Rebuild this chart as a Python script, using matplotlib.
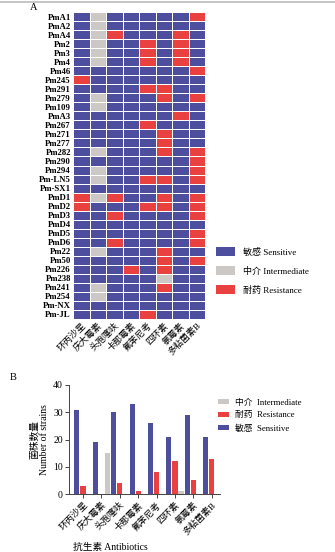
import matplotlib
matplotlib.use("Agg")
import matplotlib.pyplot as plt
import numpy as np
from matplotlib.colors import ListedColormap
from matplotlib.patches import Patch
from matplotlib.lines import Line2D

FONT = ['Liberation Serif', 'Noto Sans CJK SC', 'DejaVu Sans']
plt.rcParams['font.family'] = FONT

antibiotics = ['环丙沙星', '庆大霉素', '头孢噻呋', '卡那霉素',
               '氟苯尼考', '四环素', '氯霉素', '多粘菌素B']

strains = ['PmA1', 'PmA2', 'PmA4', 'Pm2', 'Pm3', 'Pm4', 'Pm46', 'Pm245',
           'Pm291', 'Pm279', 'Pm109', 'PmA3', 'Pm267', 'Pm271', 'Pm277',
           'Pm282', 'Pm290', 'Pm294', 'Pm-LN5', 'Pm-SX1', 'PmD1', 'PmD2',
           'PmD3', 'PmD4', 'PmD5', 'PmD6', 'Pm22', 'Pm50', 'Pm226', 'Pm238',
           'Pm241', 'Pm254', 'Pm-NX', 'Pm-JL']

# S = sensitive, I = intermediate, R = resistant (one string per strain)
profiles = ['SISSSSSR', 'SISSSSSS', 'SIRSSSRS', 'SISSRSRS', 'SISSRSRS',
            'SISSRSRS', 'SSSSSSSR', 'RSSSSSSS', 'SSSSRRSS', 'SISSSRSR',
            'SISSSSSS', 'SSSSSSRS', 'SSSSRSSS', 'SSSSSRSS', 'SSSSSRSS',
            'SISSSRSR', 'SSSSSSSR', 'SISSSSSR', 'SISSRRSR', 'SSSSSSSS',
            'RIRSSRSR', 'RSSSRRSR', 'SSRSSSSR', 'SSSSSSSS', 'SSSSSSSR',
            'SSRSSSSR', 'SISSSRSS', 'SSSSSRSR', 'SSSRSRSS', 'SSSSSISS',
            'SISSSRSS', 'SISSSSSS', 'SSSSSSSS', 'SSSSRSSS']

sensitive_counts = [31, 19, 30, 33, 26, 21, 29, 21]
resistance_counts = [3, 0, 4, 1, 8, 12, 5, 13]
intermediate_counts = [0, 15, 0, 0, 0, 1, 0, 0]

BLUE = '#4E4E9E'
GREY = '#CCC8C6'
RED = '#E8413F'

code = {'S': 0, 'I': 1, 'R': 2}
matrix = np.array([[code[c] for c in p] for p in profiles])

fig = plt.figure(figsize=(3.35, 5.52), dpi=100)

# thin rule along the top edge
fig.add_artist(Line2D([0, 1], [1 - 1.5 / 552, 1 - 1.5 / 552],
                      transform=fig.transFigure, color='#BBBBBB', lw=1.2))

# ---------- panel A: heatmap ----------
axA = fig.add_axes([73 / 335, 1 - 319 / 552, 132 / 335, 307 / 552])
cmap = ListedColormap([BLUE, GREY, RED])
axA.pcolormesh(np.arange(len(antibiotics) + 1), np.arange(len(strains) + 1),
               matrix, cmap=cmap, vmin=-0.5, vmax=2.5,
               edgecolor='white', linewidth=0.7)
axA.set_xlim(0, len(antibiotics))
axA.set_ylim(len(strains), 0)
axA.set_yticks(np.arange(len(strains)) + 0.5)
axA.set_yticklabels(strains, fontsize=6.3, fontweight='bold')
axA.set_xticks(np.arange(len(antibiotics)) + 0.5)
axA.set_xticklabels(antibiotics, fontsize=6.5, rotation=45,
                    ha='right', rotation_mode='anchor')
axA.tick_params(length=0, pad=1.5)
for s in axA.spines.values():
    s.set_visible(False)

fig.text(30 / 335, 1 - 8 / 552, 'A', fontsize=7.5, va='center')

legA = [Patch(facecolor=BLUE, label='敏感 Sensitive'),
        Patch(facecolor=GREY, label='中介 Intermediate'),
        Patch(facecolor=RED, label='耐药 Resistance')]
fig.legend(handles=legA, loc='upper left',
           bbox_to_anchor=(212 / 335, 1 - 243 / 552), frameon=False,
           fontsize=6.5, handlelength=2.2, handleheight=1.3,
           labelspacing=1.0, handletextpad=0.8, borderaxespad=0)

# ---------- panel B: grouped bars ----------
axB = fig.add_axes([69 / 335, 1 - 494 / 552, 151 / 335, 109 / 552])
x = np.arange(len(antibiotics))
w = 0.28
off = 0.33
axB.bar(x - off, sensitive_counts, w, color=BLUE, label='敏感  Sensitive')
axB.bar(x, resistance_counts, w, color=RED, label='耐药  Resistance')
axB.bar(x + off, intermediate_counts, w, color=GREY, label='中介  Intermediate')
axB.set_ylim(0, 40)
axB.set_xlim(-0.76, 7.45)
axB.set_yticks([0, 10, 20, 30, 40])
axB.set_xticks(x)
axB.set_xticklabels(antibiotics, fontsize=6.5, rotation=45,
                    ha='right', rotation_mode='anchor')
axB.tick_params(axis='both', labelsize=7, length=3, width=0.7, pad=1.5,
                color='#444444')
axB.tick_params(axis='x', labelsize=6.5)
for side in ('top', 'right'):
    axB.spines[side].set_visible(False)
for side in ('left', 'bottom'):
    axB.spines[side].set_linewidth(0.7)
    axB.spines[side].set_color('#444444')
axB.set_ylabel('菌株数量\nNumber of strains', fontsize=7, labelpad=3,
               linespacing=1.1)
fig.text(110 / 335, 1 - 547 / 552, '抗生素 Antibiotics', fontsize=7,
         ha='center', va='center')
fig.text(10 / 335, 1 - 378 / 552, 'B', fontsize=7.5, va='center')

h, l = axB.get_legend_handles_labels()
fig.legend(h[::-1], l[::-1], loc='upper left',
           bbox_to_anchor=(214 / 335, 1 - 395 / 552), frameon=False,
           fontsize=6.3, handlelength=1.3, handleheight=0.6,
           labelspacing=0.55, handletextpad=0.7, borderaxespad=0)

fig.savefig('out.png', dpi=100)
